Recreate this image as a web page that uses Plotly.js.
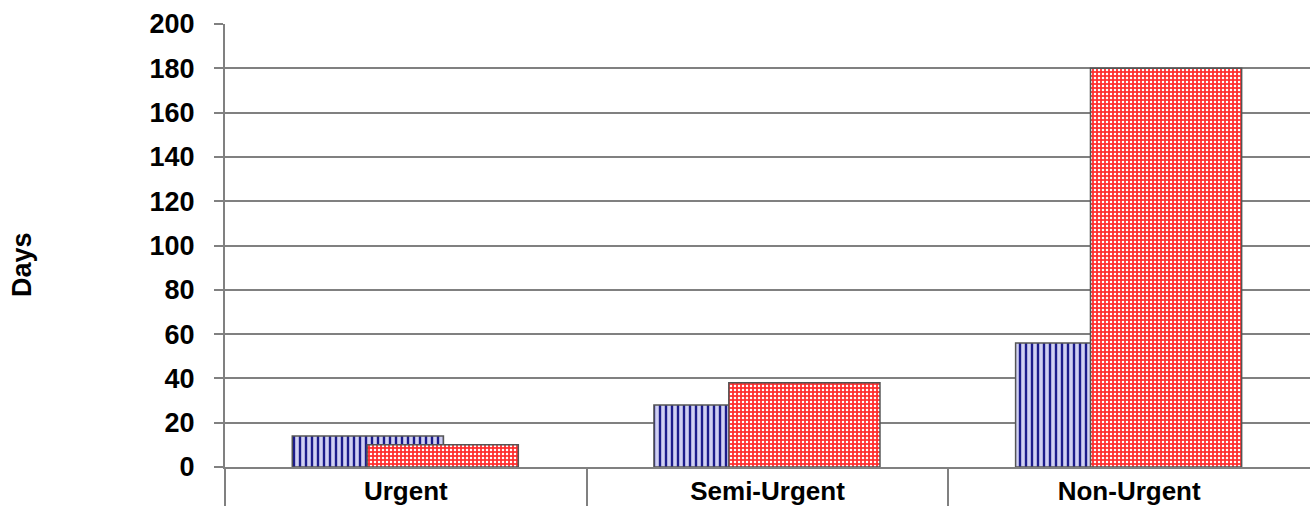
<!DOCTYPE html>
<html>
<head>
<meta charset="utf-8">
<script src="https://cdn.plot.ly/plotly-3.0.1.min.js"></script>
<style>html,body{margin:0;padding:0;background:#fff;}#chart{width:1316px;height:506px;}</style>
</head>
<body>
<div id="chart"></div>
<script>
const categories = ["Urgent", "Semi-Urgent", "Non-Urgent"];
const seriesA = [14, 28, 56];
const seriesB = [10, 38, 180];
const yTicks = [0, 20, 40, 60, 80, 100, 120, 140, 160, 180, 200];
const dividerVals = [-0.5, 0.5, 1.5];

const font = {family: "Liberation Sans, Arial, sans-serif", size: 27, color: "#000"};

const traces = [
  {
    type: "bar", x: categories, y: seriesA, name: "A",
    width: 0.418, offset: -0.314,
    marker: {
      color: "#c4c4ee",
      line: {color: "#555", width: 1.5},
      pattern: {shape: "|", fgcolor: "#1c1c8c", bgcolor: "#d0d0f2", size: 6, solidity: 0.4}
    },
    hoverinfo: "none"
  },
  {
    type: "bar", x: categories, y: seriesB, name: "B",
    width: 0.418, offset: -0.107,
    marker: {
      color: "#ff3b3b",
      line: {color: "#555", width: 1.5},
      pattern: {shape: ".", fgcolor: "#ffffff", bgcolor: "#ff2e2e", size: 4, solidity: 0.3}
    },
    hoverinfo: "none"
  },
  {
    type: "scatter", x: [-0.5, 2.5], y: [0, 0], xaxis: "x2", yaxis: "y",
    mode: "none", showlegend: false, hoverinfo: "none"
  }
];

const layout = {
  width: 1316, height: 506,
  margin: {l: 225, r: 6, t: 24, b: 39},
  paper_bgcolor: "#fff", plot_bgcolor: "#fff",
  barmode: "overlay",
  showlegend: false,
  font: font,
  xaxis: {
    type: "category",
    range: [-0.5, 2.5],
    showgrid: false,
    ticks: "",
    ticklabelstandoff: 0,
    tickfont: {family: font.family, size: 26, color: "#000", weight: "bold"},
    showline: true, linecolor: "#808080", linewidth: 2,
    zeroline: false
  },
  xaxis2: {
    overlaying: "x", anchor: "y", side: "bottom",
    type: "linear",
    range: [-0.5, 2.5],
    tickmode: "array", tickvals: dividerVals,
    ticks: "outside", ticklen: 42, tickwidth: 2, tickcolor: "#808080",
    showticklabels: false, showgrid: false, showline: false, zeroline: false
  },
  yaxis: {
    range: [0, 200],
    tickmode: "array", tickvals: yTicks,
    ticks: "outside", ticklen: 9, tickwidth: 2, tickcolor: "#808080",
    ticklabelstandoff: 14,
    tickfont: {family: font.family, size: 27, color: "#000", weight: "bold"},
    showgrid: true, gridcolor: "#808080", gridwidth: 2,
    showline: true, linecolor: "#808080", linewidth: 2,
    zeroline: false
  },
  annotations: [{
    text: "<b>Days</b>", textangle: -90,
    xref: "paper", yref: "paper",
    x: -0.187, y: 0.456, xanchor: "center", yanchor: "middle",
    showarrow: false,
    font: {family: font.family, size: 27, color: "#000"}
  }]
};

Plotly.newPlot("chart", traces, layout, {displayModeBar: false, staticPlot: true});
</script>
</body>
</html>
